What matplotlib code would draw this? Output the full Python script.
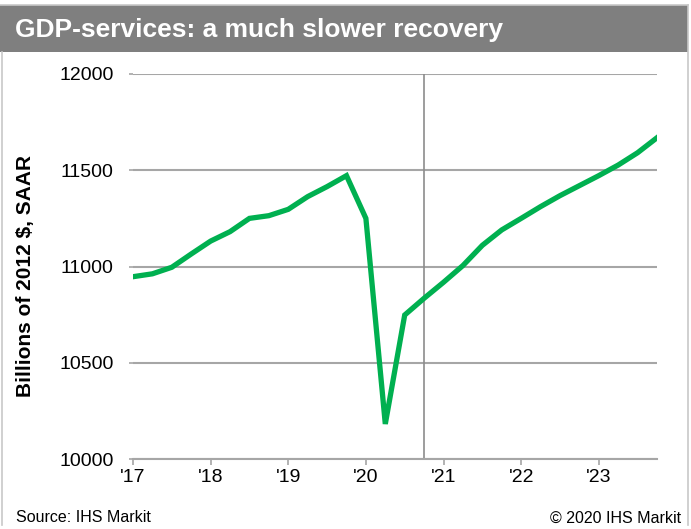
import matplotlib
matplotlib.use("Agg")
import matplotlib.pyplot as plt
from matplotlib.patches import Rectangle
from matplotlib.lines import Line2D

# ---- data (quarterly, 2017Q1 .. 2023Q4) ----
start_year = 2017
gdp_services = [10947, 10962, 10996, 11065, 11132, 11181, 11250, 11264,
                11297, 11363, 11415, 11472, 11250, 10182, 10748, 10835,
                10918, 11005, 11110, 11190, 11250, 11311, 11368, 11420,
                11472, 11527, 11591, 11669]
x_vals = [start_year + i / 4 for i in range(len(gdp_services))]
x_ticks = [2017, 2018, 2019, 2020, 2021, 2022, 2023]
x_ticklabels = ["'17", "'18", "'19", "'20", "'21", "'22", "'23"]
y_ticks = [10000, 10500, 11000, 11500, 12000]
forecast_start = 2020.75

title = "GDP-services: a much slower recovery"
ylabel = "Billions of 2012 $, SAAR"
source = "Source: IHS Markit"
copyright_txt = "\u00a9 2020 IHS Markit"

plt.rcParams['font.family'] = ['Liberation Sans', 'DejaVu Sans']

W, H = 691, 529
fig = plt.figure(figsize=(W / 100, H / 100), dpi=100)

def fx(px):
    return px / W

def fy(py):
    return (H - py) / H

# title bar
fig.patches.append(Rectangle((0, fy(52)), fx(688), fy(5) - fy(52),
                             transform=fig.transFigure, facecolor='#7f7f7f',
                             edgecolor='none', zorder=0))
border = '#c8c8c8'
fig.lines.append(Line2D([0, fx(688)], [fy(5), fy(5)], transform=fig.transFigure,
                        color=border, lw=1.2))
fig.lines.append(Line2D([fx(1.5), fx(1.5)], [fy(52), fy(525)], transform=fig.transFigure,
                        color=border, lw=1.2))
fig.lines.append(Line2D([fx(688), fx(688)], [fy(5), fy(525)], transform=fig.transFigure,
                        color=border, lw=1.2))
fig.text(fx(15), fy(30), title, color='white', fontsize=19, fontweight='bold',
         ha='left', va='center')

ax = fig.add_axes([fx(133), fy(459), fx(657) - fx(133), fy(74) - fy(459)])
ax.plot(x_vals, gdp_services, color='#00b050', lw=3.8, solid_joinstyle='miter',
        zorder=3)
ax.axvline(forecast_start, color='#8c8c8c', lw=1.2, zorder=2)

ax.set_xlim(2017, 2023.75)
ax.set_ylim(10000, 12000)
ax.set_yticks(y_ticks)
ax.set_yticklabels([str(v) for v in y_ticks], fontsize=14)
ax.set_xticks(x_ticks)
ax.set_xticklabels(x_ticklabels, fontsize=14)
ax.yaxis.grid(True, color='#a6a6a6', lw=1.5)
ax.set_axisbelow(True)
for s in ['left', 'right', 'top']:
    ax.spines[s].set_visible(False)
ax.spines['bottom'].set_color('#a6a6a6')
ax.spines['bottom'].set_linewidth(1.5)
ax.tick_params(axis='x', direction='out', length=4, width=1.2, color='#a6a6a6',
               pad=3)
ax.tick_params(axis='y', length=3, width=1.2, color='#a6a6a6', pad=11)

fig.text(fx(26), fy(276), ylabel, fontsize=15, fontweight='bold',
         rotation=90, ha='center', va='center')

fig.text(fx(16), fy(518), source, fontsize=11.5, ha='left', va='center')
fig.text(fx(681), fy(518), copyright_txt, fontsize=11.5, ha='right', va='center')

fig.savefig('out.png', dpi=100)
